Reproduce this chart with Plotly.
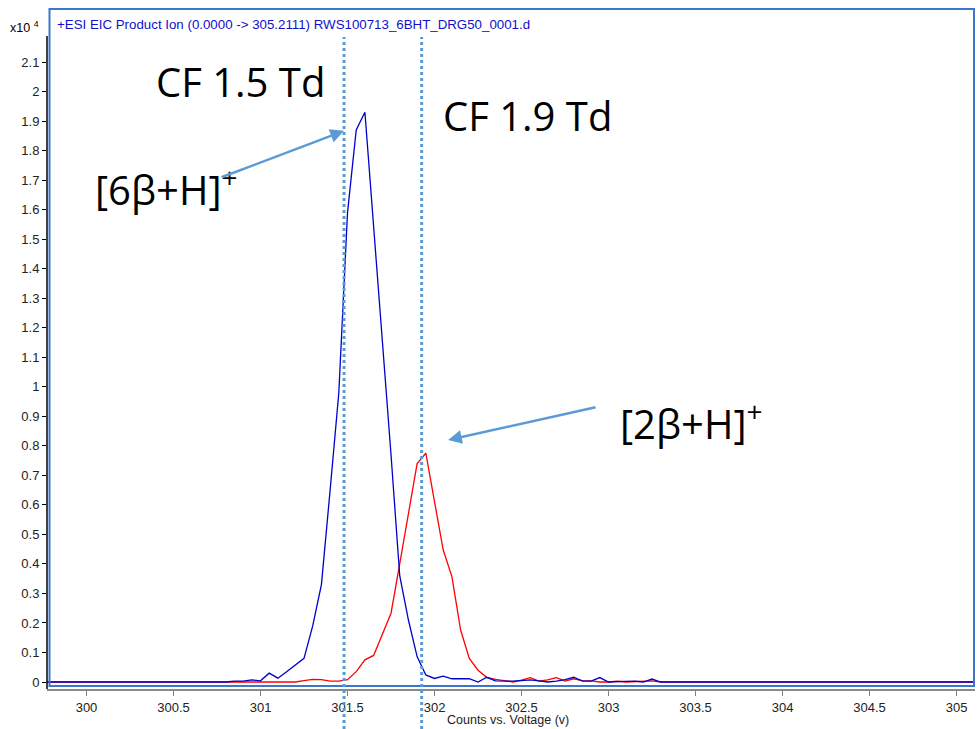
import plotly.graph_objects as go

# ---------------- data ----------------
voltage = [299.75, 300.80, 300.85, 300.90, 300.95, 301.00, 301.05, 301.10, 301.15, 301.20,
           301.25, 301.30, 301.35, 301.40, 301.45, 301.50, 301.55, 301.60, 301.65, 301.70,
           301.75, 301.80, 301.85, 301.90, 301.95, 302.00, 302.05, 302.10, 302.15, 302.20,
           302.25, 302.30, 302.35, 302.40, 302.45, 302.50, 302.55, 302.60, 302.65, 302.70,
           302.75, 302.80, 302.85, 302.90, 302.95, 303.00, 303.05, 303.10, 303.15, 303.20,
           303.25, 303.30, 305.15]

# counts (x10^4) for [6β+H]+ (blue)
blue_counts = [0, 0, 0.003, 0.003, 0.007, 0.004, 0.030, 0.013, 0.035, 0.057,
               0.080, 0.190, 0.330, 0.650, 0.980, 1.590, 1.870, 1.930, 1.550, 1.170,
               0.770, 0.360, 0.210, 0.086, 0.024, 0.012, 0.020, 0.011, 0.011, 0.011,
               0.000, 0.016, 0.004, 0.003, 0.003, 0.005, 0.007, 0.004, 0.000, 0.003,
               0.008, 0.016, 0.003, 0.003, 0.015, 0.000, 0.002, 0.002, 0.003, 0.000,
               0.010, 0.000, 0]

# counts (x10^4) for [2β+H]+ (red)
red_counts = [0, 0, 0, 0, 0, 0, 0, 0, 0, 0,
              0.005, 0.009, 0.008, 0.003, 0.003, 0.008, 0.035, 0.075, 0.090, 0.160,
              0.233, 0.400, 0.570, 0.740, 0.775, 0.610, 0.447, 0.357, 0.176, 0.080,
              0.040, 0.016, 0.009, 0.005, 0.000, 0.006, 0.015, 0.003, 0.007, 0.015,
              0.003, 0.011, 0.005, 0.004, 0.000, 0.000, 0.003, 0.000, 0.002, 0.003,
              0.004, 0.000, 0]

cf_lines = [301.48, 301.926]
x_ticks = [300, 300.5, 301, 301.5, 302, 302.5, 303, 303.5, 304, 304.5, 305]
y_ticks = [round(i * 0.1, 1) for i in range(22)]
y_ticktext = ["0", "0.1", "0.2", "0.3", "0.4", "0.5", "0.6", "0.7", "0.8", "0.9", "1",
              "1.1", "1.2", "1.3", "1.4", "1.5", "1.6", "1.7", "1.8", "1.9", "2", "2.1"]

# ---------------- layout helpers ----------------
W, H = 978, 729
L, R, T, B = 47, 975, 8, 689


def px(p):
    return (p - L) / (R - L)


def py(p):
    return (B - p) / (B - T)


fig = go.Figure()
fig.add_trace(go.Scatter(x=voltage, y=red_counts, mode="lines",
                         line=dict(color="#ff0000", width=1.3), showlegend=False))
fig.add_trace(go.Scatter(x=voltage, y=blue_counts, mode="lines",
                         line=dict(color="#0000cc", width=1.3), showlegend=False))

shapes = []
# blue frame
shapes.append(dict(type="rect", xref="paper", yref="paper", x0=px(49.5), x1=px(974), y0=py(686), y1=py(9),
                   line=dict(color="#3d74cc", width=2), layer="above"))
# black y axis line
shapes.append(dict(type="line", xref="paper", yref="paper", x0=0, x1=0, y0=0, y1=py(36),
                   line=dict(color="black", width=1.5), layer="above"))
# dotted CF lines
for xv in cf_lines:
    shapes.append(dict(type="line", xref="x", yref="paper", x0=xv, x1=xv, y0=py(729), y1=py(37),
                       line=dict(color="#5b9bd5", width=3, dash="dot"), layer="above"))

ann = []
ann.append(dict(xref="paper", yref="paper", x=px(55), y=py(25), xanchor="left", yanchor="middle",
                text="+ESI EIC Product Ion (0.0000 -> 305.2111) RWS100713_6BHT_DRG50_0001.d",
                showarrow=False, font=dict(family="Liberation Sans", size=13.3, color="#1010cc")))
ann.append(dict(xref="paper", yref="paper", x=px(8), y=py(27), xanchor="left", yanchor="middle",
                text="x10 <sup>4</sup>", showarrow=False,
                font=dict(family="Liberation Sans", size=12.5, color="black")))
big = dict(family="Open Sans", size=40, color="black")
ann.append(dict(xref="paper", yref="paper", x=px(240), y=py(82), xanchor="center", yanchor="middle",
                text="CF 1.5 Td", showarrow=False, font=big))
ann.append(dict(xref="paper", yref="paper", x=px(527), y=py(115), xanchor="center", yanchor="middle",
                text="CF 1.9 Td", showarrow=False, font=big))
ann.append(dict(xref="paper", yref="paper", x=px(166), y=py(188), xanchor="center", yanchor="middle",
                text="[6β+H]<sup>+</sup>", showarrow=False, font=big))
ann.append(dict(xref="paper", yref="paper", x=px(691), y=py(421), xanchor="center", yanchor="middle",
                text="[2β+H]<sup>+</sup>", showarrow=False, font=big))
# arrows
ann.append(dict(xref="x", yref="y", x=301.48, y=1.867, ax=-124, ay=47, text="", showarrow=True,
                arrowhead=2, arrowsize=1.1, arrowwidth=2.5, arrowcolor="#5b9bd5", standoff=0))
ann.append(dict(xref="x", yref="y", x=302.078, y=0.82, ax=149, ay=-33, text="", showarrow=True,
                arrowhead=2, arrowsize=1.1, arrowwidth=2.5, arrowcolor="#5b9bd5", standoff=0))
# x axis title
ann.append(dict(xref="paper", yref="paper", x=px(508), y=py(720), xanchor="center", yanchor="middle",
                text="Counts vs. Voltage (v)", showarrow=False,
                font=dict(family="Liberation Sans", size=12.5, color="#222222")))

fig.update_layout(
    width=W, height=H,
    margin=dict(l=L, r=W - R, t=T, b=H - B, pad=0),
    paper_bgcolor="white", plot_bgcolor="white",
    shapes=shapes, annotations=ann, showlegend=False,
    xaxis=dict(range=[299.773, 305.106], tickvals=x_ticks, ticks="outside", ticklen=5,
               tickcolor="#808080", showgrid=False, zeroline=False, showline=True,
               linecolor="#8a8a8a", linewidth=2,
               tickfont=dict(family="Liberation Sans", size=13, color="#222222")),
    yaxis=dict(range=[-0.0237, 2.2832], tickvals=y_ticks, ticktext=y_ticktext, ticks="outside",
               ticklen=4, tickcolor="black", showgrid=False, zeroline=False, showline=False,
               tickfont=dict(family="Liberation Sans", size=13, color="#222222")),
)

fig.write_html("out.html", config={"displayModeBar": False},
               post_script="document.body.style.margin='0px';")
